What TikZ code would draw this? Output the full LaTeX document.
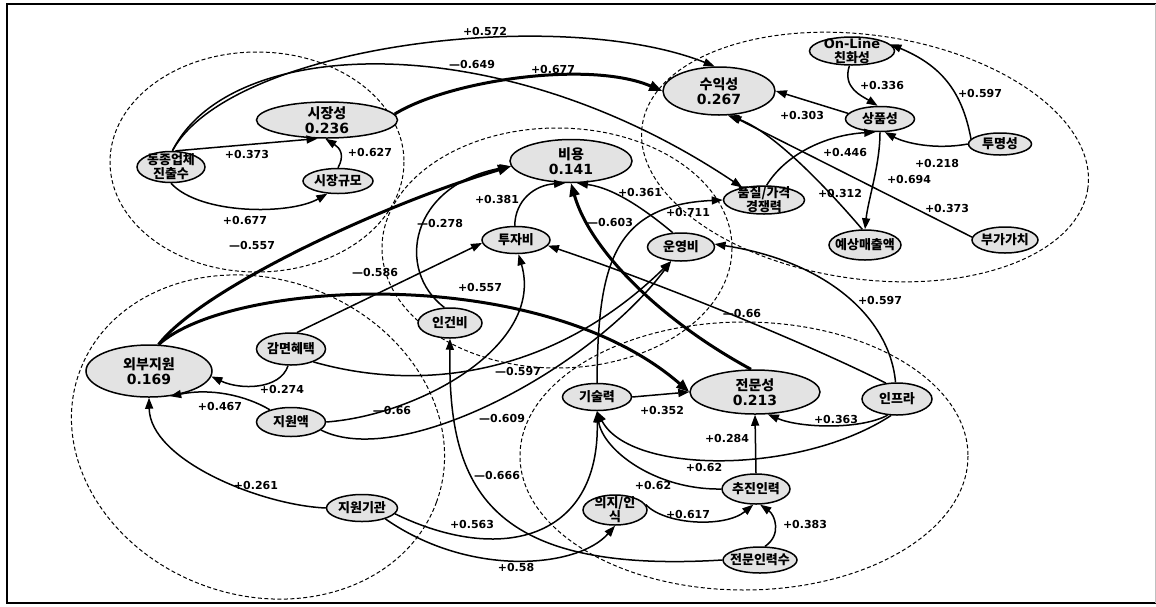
\documentclass[tikz,border=0pt]{standalone}
\usepackage{fontspec}
\setmainfont{DejaVu Sans}
\newfontfamily\kr{Noto Sans CJK KR}
\usetikzlibrary{shapes.geometric, arrows.meta}

\tikzset{
  var/.style={ellipse, draw, line width=1.5pt, fill=gray!22, inner xsep=0pt, inner ysep=-4pt, align=center,
    font=\bfseries\fontsize{13}{14}\selectfont},
  big/.style={var, font=\bfseries\fontsize{14}{15}\selectfont},
  arr/.style={-{Triangle[length=11pt,width=8pt]}, line width=1.5pt},
  tarr/.style={-{Triangle[length=13pt,width=10pt]}, line width=3pt},
  lbl/.style={inner sep=0pt, font=\bfseries\fontsize{11}{12}\selectfont},
  clus/.style={dash pattern=on 4pt off 2.5pt, line width=1pt}
}
\newcommand{\ko}[1]{\makebox[0pt]{\kr\bfseries #1}}
\newcommand{\nm}[1]{\makebox[0pt]{#1}}

\begin{document}
\begin{tikzpicture}[x=1pt, y=-1pt]
\useasboundingbox (0,0) rectangle (1156,606);
% Frame
\draw[line width=2pt] (1156,4) -- (6.5,4) -- (6.5,602.5) -- (1156,602.5);
\draw[gray!50, line width=0.8pt] (1155,4) -- (1155,602.5);

% Clusters
\draw[clus] (257,162) ellipse [x radius=147, y radius=110];
\draw[clus, rotate around={-8:(865,157)}] (865,157) ellipse [x radius=225, y radius=122];
\draw[clus] (557,248) ellipse [x radius=175, y radius=120];
\draw[clus, rotate around={-20:(258,437)}] (258,437) ellipse [x radius=190, y radius=158];
\draw[clus] (744,456) ellipse [x radius=224, y radius=134];

% Variables
\node[big, minimum width=141, minimum height=36] (mkt) at (327,120) {\ko{시장성}\\\nm{0.236}};
\node[var, minimum width=68, minimum height=31] (comp) at (171,167) {\ko{동종업체}\\\ko{진출수}};
\node[var, minimum width=70, minimum height=25] (msize) at (338,181) {\ko{시장규모}};
\node[big, minimum width=112, minimum height=48] (prof) at (719,91) {\ko{수익성}\\\nm{0.267}};
\node[var, minimum width=85, minimum height=28] (onl) at (852,51) {\nm{On-Line}\\\ko{친화성}};
\node[var, minimum width=69, minimum height=25] (prod) at (880,119) {\ko{상품성}};
\node[var, minimum width=63, minimum height=22] (trans) at (1000,144) {\ko{투명성}};
\node[var, minimum width=81, minimum height=28] (qual) at (764,200) {\ko{품질/가격}\\\ko{경쟁력}};
\node[var, minimum width=72, minimum height=30] (sales) at (865,245) {\ko{예상매출액}};
\node[var, minimum width=66, minimum height=26] (addv) at (1005,240) {\ko{부가가치}};
\node[big, minimum width=122, minimum height=43] (cost) at (571,161) {\ko{비용}\\\nm{0.141}};
\node[var, minimum width=68, minimum height=27] (inv) at (516,240) {\ko{투자비}};
\node[var, minimum width=67, minimum height=28] (oper) at (681,247) {\ko{운영비}};
\node[var, minimum width=64, minimum height=30] (labor) at (450,323) {\ko{인건비}};
\node[big, minimum width=126, minimum height=52] (ext) at (149,371) {\ko{외부지원}\\\nm{0.169}};
\node[var, minimum width=69, minimum height=32] (tax) at (291,349) {\ko{감면혜택}};
\node[var, minimum width=69, minimum height=29] (fund) at (291,422) {\ko{지원액}};
\node[var, minimum width=71, minimum height=27] (agency) at (362,508) {\ko{지원기관}};
\node[var, minimum width=69, minimum height=27] (tech) at (597,397) {\ko{기술력}};
\node[big, minimum width=130, minimum height=44] (expert) at (755,392) {\ko{전문성}\\\nm{0.213}};
\node[var, minimum width=70, minimum height=32] (infra) at (897,399) {\ko{인프라}};
\node[var, minimum width=68, minimum height=30] (staff) at (756,489) {\ko{추진인력}};
\node[var, minimum width=64, minimum height=30] (will) at (615,510) {\ko{의지/인}\\\ko{식}};
\node[var, minimum width=74, minimum height=26] (nprof) at (760,560) {\ko{전문인력수}};

% Paths
\draw[arr] (comp.75) -- (mkt.243);
\draw[arr] (msize.north) .. controls (345,155) and (340,148) .. (mkt.265);
\draw[arr] (comp.south) .. controls (200,215) and (290,215) .. (msize.230);
\draw[arr] (comp.85) .. controls (230,45) and (560,5) .. (prof.100);
\draw[arr] (comp.85) .. controls (230,35) and (500,25) .. (qual.150);
\draw[tarr] (mkt.5) .. controls (450,80) and (590,60) .. (prof.180);
\draw[arr] (onl.260) .. controls (842,88) and (862,96) .. (prod.100);
\draw[arr] (trans.170) .. controls (962,90) and (940,65) .. (onl.10);
\draw[arr] (trans.180) .. controls (935,150) and (905,143) .. (prod.290);
\draw[arr] (prod.170) -- (prof.0);
\draw[arr] (prod.south) .. controls (880,165) and (868,200) .. (sales.north);
\draw[arr] (qual.80) .. controls (785,155) and (825,135) .. (prod.250);
\draw[arr] (sales.100) .. controls (820,180) and (770,130) .. (prof.290);
\draw[arr] (addv.175) -- (prof.295);
\draw[arr] (tech.north) .. controls (598,270) and (610,205) .. (qual.180);
\draw[tarr] (ext.70) .. controls (200,290) and (380,205) .. (cost.185);
\draw[tarr] (ext.70) .. controls (230,280) and (540,262) .. (expert.180);
\draw[arr] (inv.95) .. controls (515,200) and (535,185) .. (cost.255);
\draw[arr] (labor.110) .. controls (395,270) and (410,185) .. (cost.185);
\draw[arr] (oper.120) .. controls (648,212) and (615,188) .. (cost.285);
\draw[tarr] (expert.100) .. controls (660,320) and (590,250) .. (cost.270);
\draw[arr] (tax.70) -- (inv.185);
\draw[arr] (fund.east) .. controls (420,415) and (545,345) .. (inv.280);
\draw[arr] (fund.345) .. controls (400,470) and (590,370) .. (oper.235);
\draw[arr] (tax.330) .. controls (430,395) and (560,370) .. (oper.235);
\draw[arr] (infra.95) .. controls (890,320) and (830,262) .. (oper.5);
\draw[arr] (infra.125) .. controls (800,340) and (650,280) .. (inv.350);
\draw[arr] (infra.240) .. controls (860,430) and (800,428) .. (expert.300);
\draw[arr] (infra.250) .. controls (800,475) and (630,475) .. (tech.270);
\draw[arr] (staff.180) .. controls (655,490) and (603,450) .. (tech.270);
\draw[arr] (staff.north) -- (expert.south);
\draw[arr] (tech.east) -- (expert.180);
\draw[arr] (will.10) .. controls (665,525) and (725,528) .. (staff.260);
\draw[arr] (nprof.70) .. controls (782,535) and (775,515) .. (staff.285);
\draw[arr] (agency.350) .. controls (500,565) and (600,540) .. (tech.270);
\draw[arr] (agency.335) .. controls (470,578) and (578,568) .. (will.270);
\draw[arr] (agency.west) .. controls (260,505) and (150,460) .. (ext.270);
\draw[arr] (fund.150) .. controls (245,395) and (210,388) .. (ext.310);
\draw[arr] (tax.260) .. controls (280,390) and (240,390) .. (ext.355);
\draw[arr] (nprof.west) .. controls (480,575) and (448,480) .. (labor.south);

% Weights
\node[lbl] (l373a) at (247,154) {+0.373};
\node[lbl] (l627) at (370,152) {+0.627};
\node[lbl] (l677a) at (245,220) {+0.677};
\node[lbl] (l572) at (485,31) {+0.572};
\node[lbl] (l649) at (472,64) {—0.649};
\node[lbl] (l677b) at (553,69) {+0.677};
\node[lbl] (l336) at (882,85) {+0.336};
\node[lbl] (l597a) at (980,93) {+0.597};
\node[lbl] (l303) at (802,115) {+0.303};
\node[lbl] (l446) at (845,152) {+0.446};
\node[lbl] (l218) at (937,163) {+0.218};
\node[lbl] (l694) at (909,179) {+0.694};
\node[lbl] (l312) at (840,193) {+0.312};
\node[lbl] (l373b) at (947,208) {+0.373};
\node[lbl] (l381) at (497,199) {+0.381};
\node[lbl] (l278) at (440,223) {—0.278};
\node[lbl] (l361) at (640,192) {+0.361};
\node[lbl] (l603) at (610,222) {—0.603};
\node[lbl] (l711) at (688,212) {+0.711};
\node[lbl] (l557a) at (252,245) {—0.557};
\node[lbl] (l586) at (375,272) {—0.586};
\node[lbl] (l557b) at (480,287) {+0.557};
\node[lbl] (l66a) at (742,313) {—0.66};
\node[lbl] (l597b) at (880,300) {+0.597};
\node[lbl] (l274) at (282,389) {+0.274};
\node[lbl] (l467) at (220,406) {+0.467};
\node[lbl] (l597c) at (518,371) {—0.597};
\node[lbl] (l66b) at (392,410) {—0.66};
\node[lbl] (l609) at (502,418) {—0.609};
\node[lbl] (l352) at (662,410) {+0.352};
\node[lbl] (l363) at (836,419) {+0.363};
\node[lbl] (l284) at (727,438) {+0.284};
\node[lbl] (l62a) at (704,467) {+0.62};
\node[lbl] (l62b) at (653,485) {+0.62};
\node[lbl] (l666) at (497,475) {—0.666};
\node[lbl] (l261) at (256,485) {+0.261};
\node[lbl] (l563) at (472,524) {+0.563};
\node[lbl] (l617) at (688,514) {+0.617};
\node[lbl] (l383) at (805,524) {+0.383};
\node[lbl] (l58) at (516,567) {+0.58};
\end{tikzpicture}
\end{document}
